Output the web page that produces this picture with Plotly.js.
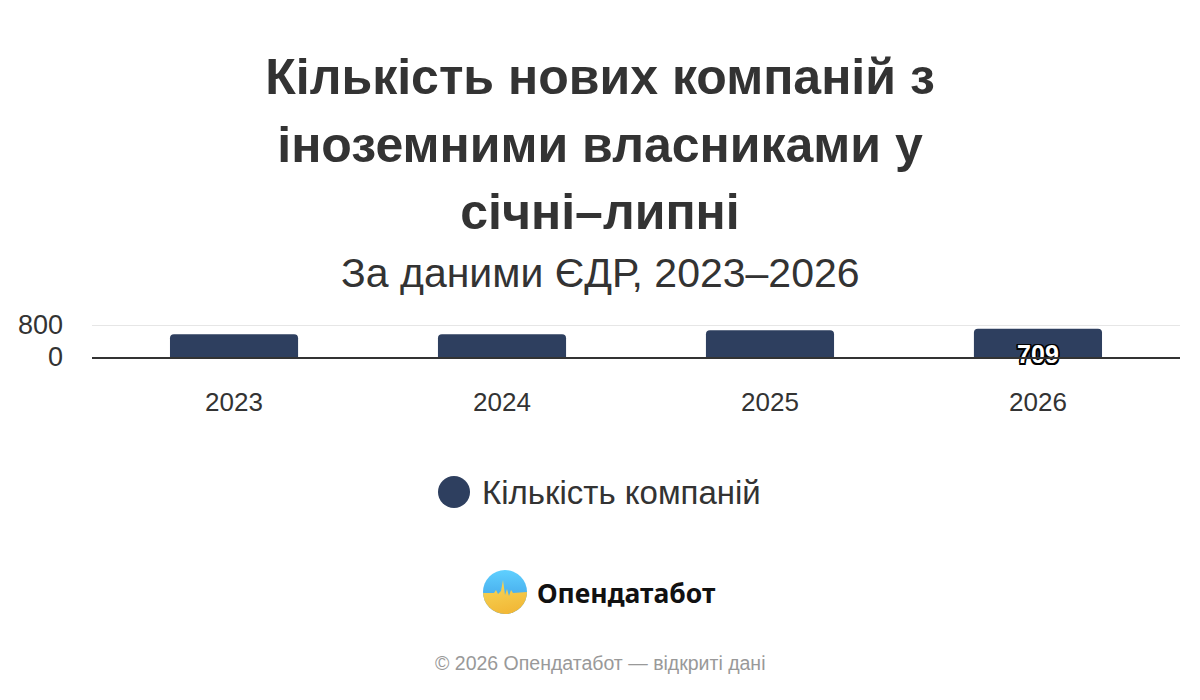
<!DOCTYPE html>
<html>
<head>
<meta charset="utf-8">
<script src="https://cdn.plot.ly/plotly-3.0.1.min.js"></script>
<style>
  html, body { margin: 0; padding: 0; background: #fff; }
  #chart { width: 1200px; height: 700px; }
</style>
</head>
<body>
<div id="chart"></div>
<script>
var years = ['2023', '2024', '2025', '2026'];
var companies = [567, 568, 667, 709];
var seriesName = 'Кількість компаній';
var titleLines = ['Кількість нових компаній з', 'іноземними власниками у', 'січні–липні'];
var subtitle = 'За даними ЄДР, 2023–2026';
var brand = 'Опендатабот';
var credits = '© 2026 Опендатабот — відкриті дані';

var barColor = '#2e3f5f';
var font = 'Liberation Sans, Arial, sans-serif';

// plot area in pixels, used to place the extras outside it
var L = 92, R = 20, T = 321, B = 343;
var plotW = 1200 - L - R, plotH = 700 - T - B;
function px(x) { return (x - L) / plotW; }
function py(y) { return (700 - B - y) / plotH; }

// small logo mark as inline svg
var logoSvg = '<svg xmlns="http://www.w3.org/2000/svg" width="88" height="88" viewBox="0 0 88 88">' +
  '<defs><linearGradient id="b" x1="0" y1="0" x2="0" y2="1"><stop offset="0" stop-color="#5fd0ff"/><stop offset="1" stop-color="#3a97e0"/></linearGradient>' +
  '<linearGradient id="y" x1="0" y1="0" x2="0.3" y2="1"><stop offset="0" stop-color="#f7d95a"/><stop offset="1" stop-color="#f2b938"/></linearGradient>' +
  '<clipPath id="c"><circle cx="44" cy="44" r="44"/></clipPath></defs>' +
  '<g clip-path="url(#c)"><rect width="88" height="88" fill="url(#b)"/>' +
  '<path d="M0 46 L22 46 L26 40 L30 48 L36 42 L40 20 L44 50 L48 38 L52 52 L56 40 L60 46 L88 44 L88 88 L0 88 Z" fill="url(#y)"/></g></svg>';

var outline = '-1.5px -1.5px 0 #000, 1.5px -1.5px 0 #000, -1.5px 1.5px 0 #000, 1.5px 1.5px 0 #000, 0 1.5px 0 #000, 0 -1.5px 0 #000, 1.5px 0 0 #000, -1.5px 0 0 #000';

var traces = [{
  type: 'bar',
  x: years,
  y: companies,
  name: seriesName,
  marker: { color: barColor },
  showlegend: false,
  hoverinfo: 'x+y'
}, {
  // value label of the latest year, sitting on the baseline
  type: 'scatter',
  mode: 'text',
  x: [years[3]],
  y: [0],
  text: [String(companies[3])],
  textposition: 'middle center',
  textfont: { family: font, size: 25, color: '#fff', weight: 'bold', shadow: outline },
  cliponaxis: false,
  showlegend: false,
  hoverinfo: 'skip'
}];

var layout = {
  width: 1200,
  height: 700,
  paper_bgcolor: '#fff',
  plot_bgcolor: '#fff',
  margin: { l: L, r: R, t: T, b: B },
  font: { family: font, color: '#333' },
  bargap: 0.522,
  barcornerradius: 4,
  showlegend: false,
  title: {
    text: titleLines.map(function (s) { return '<span style="font-size:50px">' + s + '</span>'; }).join('<br>'),
    font: { family: font, size: 52, color: '#333', weight: 'bold' },
    x: 0.5,
    xanchor: 'center',
    xref: 'container',
    yref: 'container',
    y: 1 - 94 / 700,
    yanchor: 'top'
  },
  xaxis: {
    type: 'category',
    range: [-0.53, 3.53],
    showgrid: false,
    showline: true,
    linecolor: '#333',
    linewidth: 2,
    ticks: '',
    ticklabelstandoff: 21,
    tickfont: { family: font, size: 26, color: '#333' },
    fixedrange: true
  },
  yaxis: {
    range: [0, 900],
    tickvals: [0, 800],
    showgrid: true,
    gridcolor: '#e6e6e6',
    gridwidth: 1,
    zeroline: false,
    showline: false,
    ticks: '',
    ticklabelstandoff: 28,
    tickfont: { family: font, size: 27, color: '#333' },
    fixedrange: true
  },
  shapes: [{
    type: 'circle',
    xref: 'paper', yref: 'paper',
    x0: px(438), x1: px(470), y0: py(508), y1: py(476),
    fillcolor: barColor,
    line: { width: 0 }
  }],
  annotations: [
    {
      x: px(600), y: py(273), xref: 'paper', yref: 'paper',
      xanchor: 'center', yanchor: 'middle',
      text: subtitle,
      showarrow: false,
      font: { family: font, size: 41, color: '#333' }
    },
    {
      x: px(480), y: py(492), xref: 'paper', yref: 'paper',
      xanchor: 'left', yanchor: 'middle',
      text: seriesName,
      showarrow: false,
      font: { family: font, size: 33, color: '#333' }
    },
    {
      x: px(535), y: py(593), xref: 'paper', yref: 'paper',
      xanchor: 'left', yanchor: 'middle',
      text: brand,
      showarrow: false,
      font: { family: 'Noto Sans, sans-serif', size: 26.5, color: '#111', weight: 'bold' }
    },
    {
      x: px(600), y: py(663), xref: 'paper', yref: 'paper',
      xanchor: 'center', yanchor: 'middle',
      text: credits,
      showarrow: false,
      font: { family: font, size: 19.5, color: '#999' }
    }
  ],
  images: [{
    source: 'data:image/svg+xml;base64,' + btoa(logoSvg),
    xref: 'paper', yref: 'paper',
    x: px(483), y: py(570),
    sizex: px(527) - px(483), sizey: py(570) - py(614),
    xanchor: 'left', yanchor: 'top',
    sizing: 'stretch',
    layer: 'above'
  }]
};

Plotly.newPlot('chart', traces, layout, { displayModeBar: false, staticPlot: true });
</script>
</body>
</html>
